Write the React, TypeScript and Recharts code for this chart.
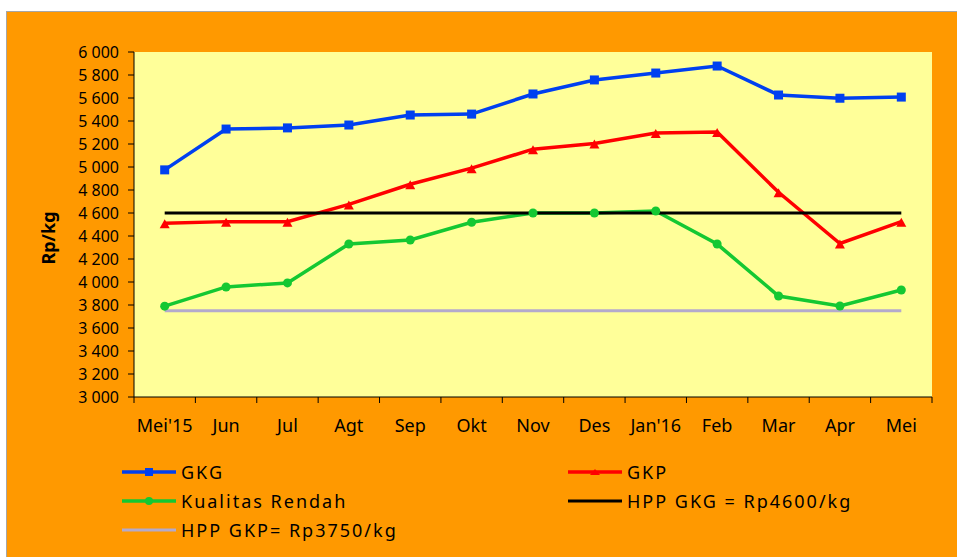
import { LineChart, Line, XAxis, YAxis, CartesianGrid, Label } from "recharts";

const months = ["Mei'15", "Jun", "Jul", "Agt", "Sep", "Okt", "Nov", "Des", "Jan'16", "Feb", "Mar", "Apr", "Mei"];
const gkg = [4975, 5330, 5340, 5365, 5452, 5460, 5635, 5757, 5817, 5878, 5626, 5598, 5608];
const gkp = [4510, 4525, 4525, 4675, 4850, 4990, 5155, 5205, 5295, 5305, 4780, 4335, 4525];
const rendah = [3790, 3957, 3992, 4330, 4365, 4520, 4600, 4600, 4617, 4330, 3878, 3791, 3930];
const hppGkg = [4600, 4600, 4600, 4600, 4600, 4600, 4600, 4600, 4600, 4600, 4600, 4600, 4600];
const hppGkp = [3750, 3750, 3750, 3750, 3750, 3750, 3750, 3750, 3750, 3750, 3750, 3750, 3750];
const yTicks = [3000, 3200, 3400, 3600, 3800, 4000, 4200, 4400, 4600, 4800, 5000, 5200, 5400, 5600, 5800, 6000];
const xBounds = [-0.5, 0.5, 1.5, 2.5, 3.5, 4.5, 5.5, 6.5, 7.5, 8.5, 9.5, 10.5, 11.5, 12.5];

const BLUE = "#0040F0";
const RED = "#FF0000";
const GREEN = "#14C832";
const GREY = "#B4AACC";
const FONT = "'Noto Sans', sans-serif";

const data = months.map((m, i) => ({
  idx: i,
  month: m,
  gkg: gkg[i],
  gkp: gkp[i],
  rendah: rendah[i],
  hppGkg: hppGkg[i],
  hppGkp: hppGkp[i],
}));

const W = 950;
const H = 545;
const M = { top: 40, right: 25, bottom: 120, left: 0 };
const Y_W = 127;
const step = (W - M.left - M.right - Y_W) / months.length;

const fmt = (v: number) => {
  const s = String(v);
  return s.slice(0, s.length - 3) + " " + s.slice(-3);
};

const MonthTick = (props: any) => {
  const { x, y, payload } = props;
  const i = payload.value + 0.5;
  if (i >= months.length) return <g />;
  return (
    <text x={x + step / 2} y={y} dy={27} textAnchor="middle" fontSize={18} fill="#000" fontFamily={FONT}>
      {months[i]}
    </text>
  );
};

const Square = (p: any) => (
  <rect key={`sq-${p.index}`} x={p.cx - 4.5} y={p.cy - 4.5} width={9} height={9} fill={BLUE} />
);
const Tri = (p: any) => (
  <polygon
    key={`tr-${p.index}`}
    points={`${p.cx - 5},${p.cy + 5} ${p.cx + 5},${p.cy + 5} ${p.cx},${p.cy - 4}`}
    fill={RED}
  />
);
const Dot = (p: any) => <circle key={`dt-${p.index}`} cx={p.cx} cy={p.cy} r={4.5} fill={GREEN} />;

const legendItems = [
  { name: "GKG", color: BLUE, marker: "square", x: 115, y: 460, w: 3.5 },
  { name: "GKP", color: RED, marker: "tri", x: 561, y: 460, w: 3.5 },
  { name: "Kualitas Rendah", color: GREEN, marker: "dot", x: 115, y: 489, w: 3.5 },
  { name: "HPP GKG = Rp4600/kg", color: "#000", marker: "", x: 561, y: 489, w: 3 },
  { name: "HPP GKP= Rp3750/kg", color: GREY, marker: "", x: 115, y: 518, w: 3 },
];

function LegendIcon({ color, marker, w }: { color: string; marker: string; w: number }) {
  return (
    <svg width={54} height={14} style={{ display: "block" }}>
      <line x1={0} y1={7} x2={54} y2={7} stroke={color} strokeWidth={w} />
      {marker === "square" && <rect x={23} y={3} width={8} height={8} fill={color} />}
      {marker === "dot" && <circle cx={27} cy={7} r={4} fill={color} />}
      {marker === "tri" && <polygon points="22,10 32,10 27,4" fill={color} />}
    </svg>
  );
}

export default function App() {
  return (
    <div
      style={{
        position: "fixed",
        left: 6,
        top: 11,
        width: W + 1,
        height: H + 1,
        background: "#FF9900",
        borderLeft: "1px solid #A6A6A6",
        borderTop: "1px solid #A6A6A6",
        boxSizing: "border-box",
        overflow: "hidden",
      }}
    >
      <LineChart width={W} height={H} data={data} margin={M}>
        <CartesianGrid horizontal={false} vertical={false} fill="#FFFF99" />
        <XAxis
          dataKey="idx"
          type="number"
          domain={[-0.5, 12.5]}
          ticks={xBounds}
          interval={0}
          height={40}
          tick={MonthTick}
          tickSize={6}
          axisLine={{ stroke: "#000", strokeWidth: 1 }}
          tickLine={{ stroke: "#000" }}
        />
        <YAxis
          domain={[3000, 6000]}
          ticks={yTicks}
          interval={0}
          width={Y_W}
          tickFormatter={fmt}
          tickSize={6}
          tickMargin={9}
          tick={{ fill: "#000", fontSize: 16, fontFamily: FONT }}
          axisLine={{ stroke: "#000", strokeWidth: 1 }}
          tickLine={{ stroke: "#000" }}
        >
          <Label
            content={() => (
              <text
                x={41}
                y={226}
                transform="rotate(-90 41 226)"
                textAnchor="middle"
                dominantBaseline="central"
                fontSize={18}
                fontWeight="bold"
                fontFamily={FONT}
                fill="#000"
              >
                Rp/kg
              </text>
            )}
          />
        </YAxis>
        <Line dataKey="gkg" stroke={BLUE} strokeWidth={3.5} dot={Square} activeDot={false} isAnimationActive={false} />
        <Line dataKey="gkp" stroke={RED} strokeWidth={3.5} dot={Tri} activeDot={false} isAnimationActive={false} />
        <Line dataKey="rendah" stroke={GREEN} strokeWidth={3.5} dot={Dot} activeDot={false} isAnimationActive={false} />
        <Line dataKey="hppGkg" stroke="#000" strokeWidth={3} dot={false} activeDot={false} isAnimationActive={false} />
        <Line dataKey="hppGkp" stroke={GREY} strokeWidth={3} dot={false} activeDot={false} isAnimationActive={false} />
      </LineChart>
      {legendItems.map((it) => (
        <div
          key={it.name}
          style={{
            position: "absolute",
            left: it.x,
            top: it.y - 12,
            height: 24,
            display: "flex",
            alignItems: "center",
            gap: 5,
            fontFamily: FONT,
            fontSize: 18,
            letterSpacing: 2,
            color: "#000",
            whiteSpace: "nowrap",
          }}
        >
          <LegendIcon color={it.color} marker={it.marker} w={it.w} />
          <span>{it.name}</span>
        </div>
      ))}
    </div>
  );
}
